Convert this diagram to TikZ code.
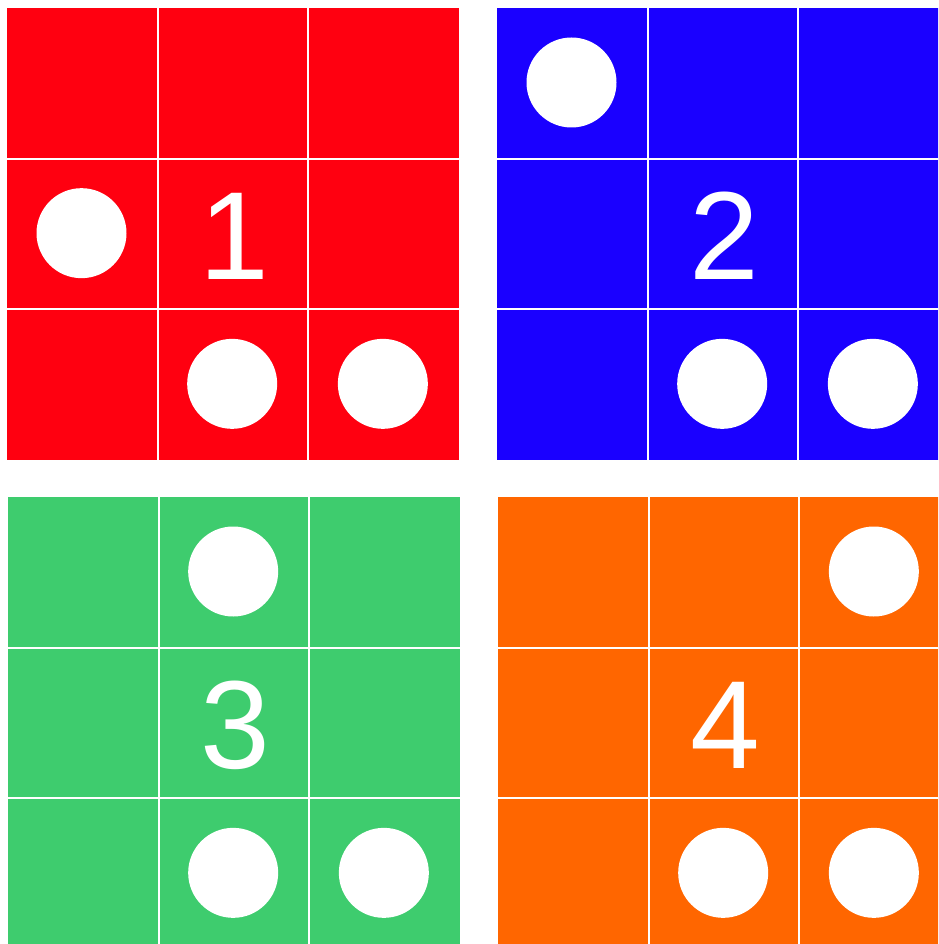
\documentclass[tikz,border=0pt]{standalone}
\usepackage{fontspec}
\setmainfont{Liberation Sans}
\definecolor{gred}{HTML}{FF0010}
\definecolor{gblue}{HTML}{1A00FF}
\definecolor{ggreen}{HTML}{3ECC6E}
\definecolor{gorange}{HTML}{FF6600}
\tikzset{
  gridsep/.style={draw=white, line width=1.5pt},
  dot/.style={fill=white},
  numlabel/.style={text=white, font=\fontsize{94}{94}\selectfont, inner sep=0pt}
}
\newcommand{\mygrid}[6]{%
  % #1 x, #2 y, #3 colour, #4 number, #5 name, #6 list of row/col circles
  \fill[#3] (#1,#2) rectangle ++(452,452);
  \foreach \k in {150.67,301.33} {
    \draw[gridsep] ({#1+\k},#2) -- ++(0,452);
    \draw[gridsep] (#1,{#2+\k}) -- ++(452,0);
  }
  \foreach \r/\c in {#6} {
    \fill[dot] ({#1+74.5+\c*150.67},{#2+74.5+\r*150.67}) circle (45);
  }
  \node[numlabel] (#5) at ({#1+227},{#2+228}) {#4};
}
\begin{document}
\begin{tikzpicture}[x=0.75pt,y=-0.75pt]
\useasboundingbox (0,0) rectangle (938,944);
\fill[white] (0,0) rectangle (938,944);
\begin{scope}
\clip (0,0) rectangle (938,944);
\mygrid{7}{8}{gred}{1}{n1}{1/0,2/1,2/2}
\mygrid{497}{8}{gblue}{2}{n2}{0/0,2/1,2/2}
\mygrid{8}{497}{ggreen}{3}{n3}{0/1,2/1,2/2}
\mygrid{498}{497}{gorange}{4}{n4}{0/2,2/1,2/2}
\end{scope}
\end{tikzpicture}
\end{document}
